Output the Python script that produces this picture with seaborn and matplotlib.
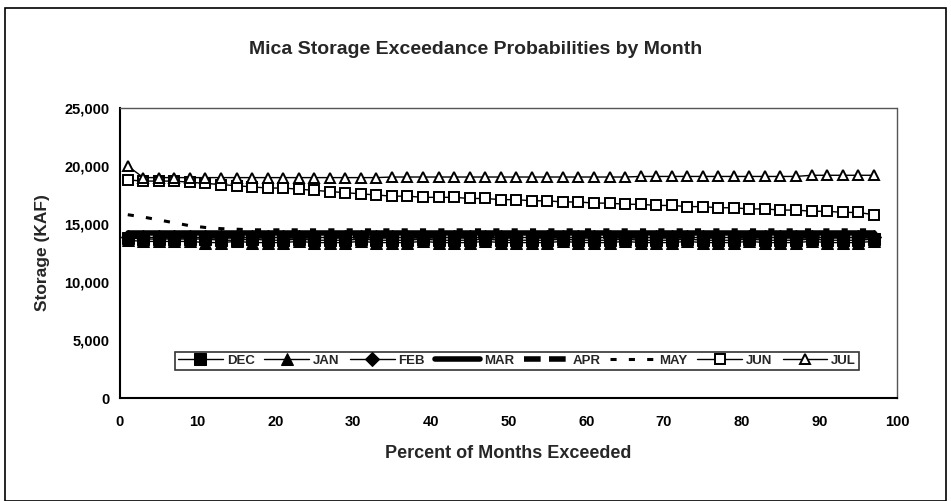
import matplotlib
matplotlib.use("Agg")
import matplotlib.pyplot as plt
import matplotlib.ticker as mticker
import seaborn as sns
import pandas as pd

# ---------------- data ----------------
pct_exceeded = [1, 3, 5, 7, 9, 11, 13, 15, 17, 19, 21, 23, 25, 27, 29, 31, 33, 35, 37, 39,
                41, 43, 45, 47, 49, 51, 53, 55, 57, 59, 61, 63, 65, 67, 69, 71, 73, 75, 77, 79,
                81, 83, 85, 87, 89, 91, 93, 95, 97]

dec = [13800, 13700, 13700, 13700, 13700, 13700, 13600, 13600, 13700, 13600, 13600, 13700, 13600, 13600, 13600, 13700, 13600,
       13600, 13600, 13700, 13600, 13600, 13600, 13700, 13600, 13600, 13600, 13600, 13700, 13600, 13600, 13600, 13700, 13600,
       13600, 13600, 13700, 13600, 13600, 13600, 13700, 13600, 13600, 13600, 13700, 13600, 13600, 13600, 13700]
jan = [13600, 13500, 13500, 13500, 13500, 13400, 13400, 13500, 13400, 13400, 13400, 13500, 13400, 13400, 13400, 13500, 13400,
       13400, 13400, 13500, 13400, 13400, 13400, 13500, 13400, 13400, 13400, 13400, 13500, 13400, 13400, 13400, 13500, 13400,
       13400, 13400, 13500, 13400, 13400, 13400, 13500, 13400, 13400, 13400, 13500, 13400, 13400, 13400, 13500]
feb = [13900, 13900, 13900, 13900, 13900, 13900, 13900, 13900, 13900, 13900, 13900, 13900, 13900, 13900, 13900, 13900, 13900,
       13900, 13900, 13900, 13900, 13900, 13900, 13900, 13900, 13900, 13900, 13900, 13900, 13900, 13900, 13900, 13900, 13900,
       13900, 13900, 13900, 13900, 13900, 13900, 13900, 13900, 13900, 13900, 13900, 13900, 13900, 13900, 13900]
mar = [14200, 14200, 14200, 14200, 14200, 14200, 14200, 14200, 14200, 14200, 14200, 14200, 14200, 14200, 14200, 14200, 14200,
       14200, 14200, 14200, 14200, 14200, 14200, 14200, 14200, 14200, 14200, 14200, 14200, 14200, 14200, 14200, 14200, 14200,
       14200, 14200, 14200, 14200, 14200, 14200, 14200, 14200, 14200, 14200, 14200, 14200, 14200, 14200, 14200]
apr = [14000, 14000, 14000, 14000, 14000, 14000, 14000, 14000, 14000, 14000, 14000, 14000, 14000, 14000, 14000, 14000, 14000,
       14000, 14000, 14000, 14000, 14000, 14000, 14000, 14000, 14000, 14000, 14000, 14000, 14000, 14000, 14000, 14000, 14000,
       14000, 14000, 14000, 14000, 14000, 14000, 14000, 14000, 14000, 14000, 14000, 14000, 14000, 14000, 14000]
may = [15800, 15600, 15350, 15100, 14850, 14700, 14600, 14550, 14500, 14500, 14500, 14500, 14500, 14500, 14500, 14500, 14500,
       14500, 14500, 14500, 14500, 14500, 14500, 14500, 14500, 14500, 14500, 14500, 14500, 14500, 14500, 14500, 14500, 14500,
       14500, 14500, 14500, 14500, 14500, 14500, 14500, 14500, 14500, 14500, 14500, 14500, 14500, 14500, 14500]
jun = [18800, 18700, 18700, 18700, 18600, 18500, 18400, 18300, 18200, 18100, 18100, 18000, 17900, 17800, 17700, 17600, 17500,
       17400, 17400, 17300, 17300, 17300, 17200, 17200, 17100, 17100, 17000, 17000, 16900, 16900, 16800, 16800, 16700, 16700,
       16600, 16600, 16500, 16500, 16400, 16400, 16300, 16300, 16200, 16200, 16100, 16100, 16000, 16000, 15800]
jul = [20000, 19000, 19000, 19000, 19000, 19000, 19000, 19000, 19000, 19000, 19000, 19000, 19000, 19000, 19000, 19000, 19000,
       19050, 19050, 19050, 19050, 19050, 19050, 19050, 19050, 19050, 19050, 19050, 19050, 19050, 19050, 19050, 19050, 19100,
       19100, 19100, 19100, 19100, 19100, 19100, 19100, 19100, 19100, 19100, 19200, 19200, 19200, 19200, 19200]

months = ["DEC", "JAN", "FEB", "MAR", "APR", "MAY", "JUN", "JUL"]
series = [dec, jan, feb, mar, apr, may, jun, jul]

x_ticks = [0, 10, 20, 30, 40, 50, 60, 70, 80, 90, 100]
y_ticks = [0, 5000, 10000, 15000, 20000, 25000]

# ---------------- style ----------------
sns.set_style("white")
plt.rcParams["font.family"] = ["Liberation Sans", "DejaVu Sans"]
plt.rcParams["font.weight"] = "bold"

styles = {
    "DEC": dict(marker="s", markersize=9, markerfacecolor="black", markeredgecolor="black", linewidth=1.0, linestyle="-"),
    "JAN": dict(marker="^", markersize=8, markerfacecolor="black", markeredgecolor="black", linewidth=1.0, linestyle="-"),
    "FEB": dict(marker="D", markersize=7, markerfacecolor="black", markeredgecolor="black", linewidth=1.0, linestyle="-"),
    "MAR": dict(marker=None, linewidth=4.0, linestyle="-"),
    "APR": dict(marker=None, linewidth=4.0, linestyle=(0, (3, 1.5))),
    "MAY": dict(marker=None, linewidth=2.2, linestyle=(0, (2, 4))),
    "JUN": dict(marker="s", markersize=6.5, markerfacecolor="white", markeredgecolor="black", markeredgewidth=1.4, linewidth=1.0, linestyle="-"),
    "JUL": dict(marker="^", markersize=6.5, markerfacecolor="white", markeredgecolor="black", markeredgewidth=1.4, linewidth=1.0, linestyle="-"),
}

fig = plt.figure(figsize=(9.51, 5.01), dpi=100)
ax = fig.add_axes([120 / 951, 1 - 398 / 501, 777 / 951, 290 / 501])

for name, vals in zip(months, series):
    df = pd.DataFrame({"pct": pct_exceeded, "storage": vals})
    st = dict(styles[name])
    ls = st.pop("linestyle")
    sns.lineplot(data=df, x="pct", y="storage", ax=ax, color="black", label=name, **st)
    ax.lines[-1].set_linestyle(ls)

ax.set_xlim(0, 100)
ax.set_ylim(0, 25000)
ax.set_xticks(x_ticks)
ax.set_yticks(y_ticks)
ax.yaxis.set_major_formatter(mticker.FuncFormatter(lambda v, p: f"{int(v):,}"))
ax.tick_params(axis="both", direction="inout", length=8, width=1.2, labelsize=10.5, colors="black")
for lab in ax.get_xticklabels() + ax.get_yticklabels():
    lab.set_fontweight("bold")
ax.tick_params(axis="x", pad=8)

for s in ["left", "bottom"]:
    ax.spines[s].set_color("black")
    ax.spines[s].set_linewidth(1.5)
for s in ["top", "right"]:
    ax.spines[s].set_color("#555555")
    ax.spines[s].set_linewidth(1.0)
    ax.spines[s].set_linestyle((0, (1, 1)))

ax.set_xlabel("Percent of Months Exceeded", fontsize=13, fontweight="bold", labelpad=12)
ax.set_ylabel("Storage (KAF)", fontsize=12.5, fontweight="bold", labelpad=10)

fig.text(0.5, 1 - 50 / 501, "Mica Storage Exceedance Probabilities by Month",
         ha="center", va="center", fontsize=14, fontweight="bold")

leg = ax.legend(loc="center", bbox_to_anchor=(0.511, 0.128), ncol=8, frameon=True,
                fontsize=9.5, handlelength=3.4, columnspacing=0.75, handletextpad=0.3,
                borderpad=0.2, fancybox=False, numpoints=1)
leg.get_frame().set_edgecolor("black")
leg.get_frame().set_linewidth(1.2)
for t in leg.get_texts():
    t.set_fontweight("bold")

border = plt.Rectangle((5 / 951, 0.0), 941 / 951, 1 - 8 / 501, transform=fig.transFigure,
                       fill=False, edgecolor="black", linewidth=1.2)
fig.patches.append(border)

fig.savefig("out.png", dpi=100)
